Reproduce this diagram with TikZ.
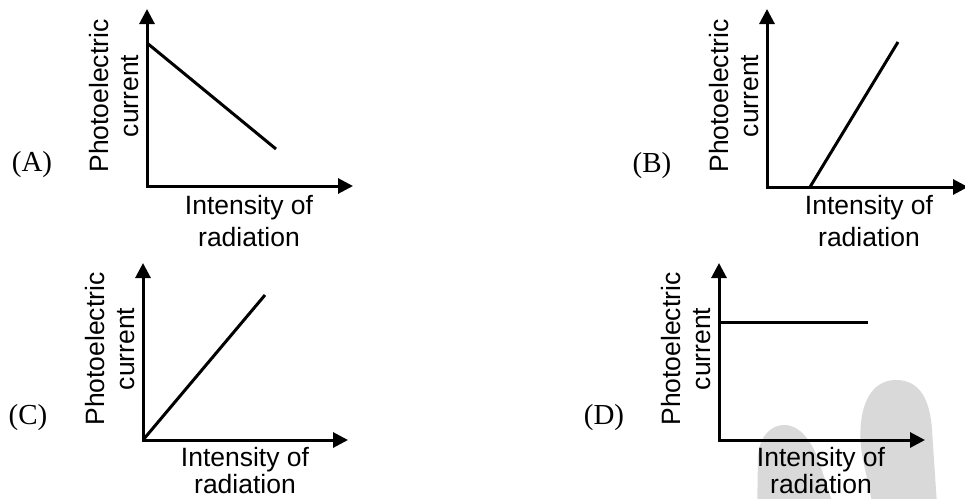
\documentclass[tikz,border=0pt]{standalone}
\usepackage{fontspec}
\setmainfont{Liberation Sans}
\newfontfamily\serlab{Liberation Serif}
\usetikzlibrary{arrows.meta}
\begin{document}
\begin{tikzpicture}[x=1pt,y=-1pt,
  axes/.style={line width=3pt, {Triangle[length=15pt,width=15pt]}-{Triangle[length=15pt,width=15pt]}},
  curve/.style={line width=3pt},
  lab/.style={font=\fontsize{26.5}{30}\selectfont, inner sep=0pt},
  vlab/.style={lab, rotate=90, anchor=base},
  hlab/.style={lab, anchor=base},
  tag/.style={font=\serlab\fontsize{29}{32}\selectfont, inner sep=0pt},
  blob/.style={fill={rgb,255:red,217;green,217;blue,217}}]
\fill[white] (0,0) rectangle (965,498);
\useasboundingbox (0,0) rectangle (965,498);
\clip (0,0) rectangle (965,498);

% watermark blobs
\fill[blob] (757,520) -- (758,455) .. controls (760,435) and (772,425) .. (784,425)
  .. controls (800,425) and (810,440) .. (818,458) -- (838,520) -- cycle;
\fill[blob] (876,520) -- (863,460) .. controls (856,425) and (862,380) .. (896,380)
  .. controls (920,380) and (930,400) .. (932,430) -- (938,520) -- cycle;

% ---------- (A) ----------
\coordinate (A-o) at (147,186);
\coordinate (A-y) at (147,9);
\coordinate (A-x) at (353,186);
\coordinate (A-s) at (147,43);
\coordinate (A-e) at (276,149);
\draw[axes] (A-y) -- (A-o) -- (A-x);
\draw[curve] (A-s) -- (A-e);
\node[tag] (A-tag) at (32,165) {(A)};
\node[vlab] (A-v1) at (108,96) {Photoelectric};
\node[vlab] (A-v2) at (138,96) {current};
\node[hlab] (A-h1) at (249,214) {Intensity of};
\node[hlab] (A-h2) at (249,246) {radiation};

% ---------- (B) ----------
\coordinate (B-o) at (767,187);
\coordinate (B-y) at (767,9);
\coordinate (B-x) at (968,187);
\coordinate (B-s) at (810,187);
\coordinate (B-e) at (898,42);
\draw[axes] (B-y) -- (B-o) -- (B-x);
\draw[curve] (B-s) -- (B-e);
\node[tag] (B-tag) at (652,166) {(B)};
\node[vlab] (B-v1) at (728,96) {Photoelectric};
\node[vlab] (B-v2) at (758,96) {current};
\node[hlab] (B-h1) at (869,214) {Intensity of};
\node[hlab] (B-h2) at (869,246) {radiation};

% ---------- (C) ----------
\coordinate (C-o) at (143,440);
\coordinate (C-y) at (143,263);
\coordinate (C-x) at (348,440);
\coordinate (C-e) at (265,295);
\draw[axes] (C-y) -- (C-o) -- (C-x);
\draw[curve] (C-o) -- (C-e);
\node[tag] (C-tag) at (28,418) {(C)};
\node[vlab] (C-v1) at (104,349) {Photoelectric};
\node[vlab] (C-v2) at (134,349) {current};
\node[hlab] (C-h1) at (245,466) {Intensity of};
\node[hlab] (C-h2) at (245,493) {radiation};

% ---------- (D) ----------
\coordinate (D-o) at (719,440);
\coordinate (D-y) at (719,263);
\coordinate (D-x) at (925,440);
\coordinate (D-s) at (719,322);
\coordinate (D-e) at (868,322);
\draw[axes] (D-y) -- (D-o) -- (D-x);
\draw[curve] (D-s) -- (D-e);
\node[tag] (D-tag) at (604,418) {(D)};
\node[vlab] (D-v1) at (680,349) {Photoelectric};
\node[vlab] (D-v2) at (710,349) {current};
\node[hlab] (D-h1) at (821,466) {Intensity of};
\node[hlab] (D-h2) at (821,493) {radiation};
\end{tikzpicture}
\end{document}
